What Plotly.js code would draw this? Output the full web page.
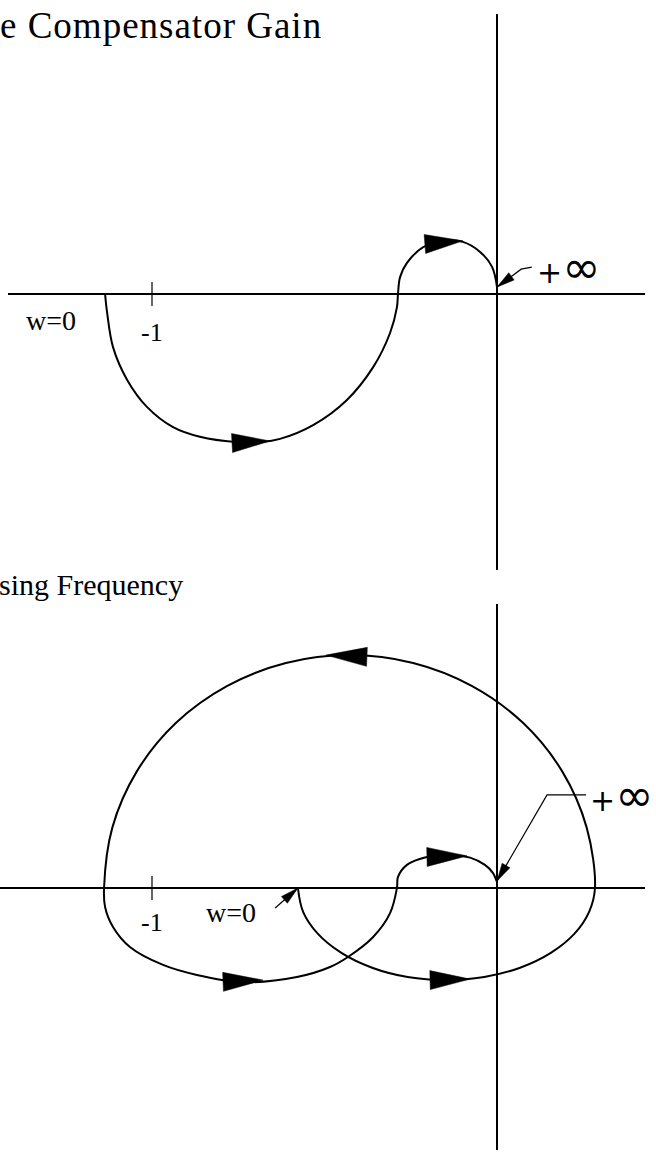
<!DOCTYPE html>
<html>
<head>
<meta charset="utf-8">
<script src="https://cdn.plot.ly/plotly-3.0.1.min.js"></script>
<style>
  html, body { margin: 0; padding: 0; background: #fff; }
  #plot { width: 656px; height: 1167px; }
</style>
</head>
<body>
<div id="plot"></div>
<script>
// ---- Nyquist locus, constant compensator gain (upper panel) ----
const upperRe = [-1.136, -1.130, -1.113, -1.072, -1.014, -0.939, -0.861, -0.759, -0.681, -0.629, -0.533, -0.435,
                 -0.359, -0.310, -0.290, -0.287, -0.281, -0.261, -0.214, -0.151, -0.099, -0.049, -0.014, 0];
const upperIm = [0, -0.055, -0.154, -0.249, -0.328, -0.386, -0.414, -0.429, -0.429, -0.420, -0.380, -0.307,
                 -0.212, -0.113, -0.038, 0, 0.049, 0.090, 0.136, 0.154, 0.151, 0.122, 0.078, 0.020];

// ---- Nyquist locus, gain varying with frequency (lower panel) ----
const lowerRe = [-0.577, -0.562, -0.519, -0.451, -0.362, -0.259, -0.148, -0.037, 0.067, 0.156, 0.224, 0.267,
                 0.284, 0.260, 0.189, 0.076, -0.072, -0.243, -0.428, -0.612, -0.783, -0.931, -1.044, -1.115,
                 -1.139, -1.136, -1.113, -1.064, -0.968, -0.870, -0.736, -0.580, -0.484, -0.432, -0.359,
                 -0.310, -0.290, -0.287, -0.261, -0.203, -0.136, -0.078, -0.035, -0.012, 0];
const lowerIm = [0, -0.069, -0.133, -0.188, -0.231, -0.258, -0.267, -0.258, -0.231, -0.188, -0.133, -0.069,
                 0, 0.175, 0.338, 0.478, 0.585, 0.652, 0.675, 0.652, 0.585, 0.478, 0.338, 0.175,
                 0, -0.055, -0.113, -0.171, -0.223, -0.252, -0.273, -0.258, -0.229, -0.200, -0.142,
                 -0.073, 0, 0.032, 0.067, 0.090, 0.096, 0.088, 0.067, 0.044, 0.017];

// direction-of-travel arrows: tail and tip points along each locus
const upperArrowTailRe = [-0.768, -0.209];
const upperArrowTailIm = [-0.432, 0.145];
const upperArrowTipRe  = [-0.658, -0.099];
const upperArrowTipIm  = [-0.426, 0.154];
const lowerArrowTailRe = [-0.377, -0.794, -0.203, -0.194];
const lowerArrowTailIm = [0.670, -0.272, 0.090, -0.267];
const lowerArrowTipRe  = [-0.496, -0.678, -0.087, -0.078];
const lowerArrowTipIm  = [0.675, -0.267, 0.093, -0.264];

// leader lines pointing at the w -> +inf end and the w = 0 start
const upperInfLeaderRe = [0.101, 0.070, 0];
const upperInfLeaderIm = [0.078, 0.072, 0.020];
const lowerInfLeaderRe = [0.258, 0.145, 0];
const lowerInfLeaderIm = [0.270, 0.270, 0.020];
const lowerZeroLeaderRe = [-0.643, -0.577];
const lowerZeroLeaderIm = [-0.058, 0];

// the -1 critical point tick
const tickVals = [-1];
const tickText = ['-1'];

// label anchors
const upperW0Re = -1.293, upperW0Im = -0.078;
const lowerW0Re = -0.770, lowerW0Im = -0.070;
const tickLabelIm = [-0.113, -0.099];
const upperInfLabelRe = 0.110, upperInfLabelIm = 0.077;   // left edge of "+inf"

// ---------------- layout geometry ----------------
const W = 656, H = 1167;
const PX = 345;                       // pixels per unit, both axes
const panels = [
  { left: 8, right: 645, top: 14,  bottom: 570,  ox: 497, oy: 294 },
  { left: 0, right: 645, top: 604, bottom: 1150, ox: 497, oy: 888 }
];

function axisPair(p) {
  const common = {
    showgrid: false, zeroline: true, zerolinecolor: '#000', zerolinewidth: 1.5,
    showticklabels: false, ticks: '', showline: false, fixedrange: true
  };
  return [
    Object.assign({}, common, { domain: [p.left / W, p.right / W], range: [(p.left - p.ox) / PX, (p.right - p.ox) / PX] }),
    Object.assign({}, common, { domain: [1 - p.bottom / H, 1 - p.top / H], range: [(p.oy - p.bottom) / PX, (p.oy - p.top) / PX] })
  ];
}

const [xa1, ya1] = axisPair(panels[0]);
const [xa2, ya2] = axisPair(panels[1]);
xa1.anchor = 'y'; ya1.anchor = 'x';
xa2.anchor = 'y2'; ya2.anchor = 'x2';

const ink = '#000';
const traces = [];

function curve(xs, ys, xref, yref, width) {
  traces.push({
    x: xs, y: ys, xaxis: xref, yaxis: yref, type: 'scatter', mode: 'lines',
    line: { color: ink, width: width, shape: 'spline', smoothing: 1 },
    hoverinfo: 'skip'
  });
}

function straight(xs, ys, xref, yref, width) {
  traces.push({
    x: xs, y: ys, xaxis: xref, yaxis: yref, type: 'scatter', mode: 'lines',
    line: { color: ink, width: width }, hoverinfo: 'skip'
  });
}

// filled triangular arrowhead from a tail point toward a tip point
function head(tx, ty, hx, hy, halfWidthPx, lengthPx, xref, yref) {
  let dx = hx - tx, dy = hy - ty;
  const len = Math.hypot(dx, dy);
  dx /= len; dy /= len;
  const L = (lengthPx == null ? len : lengthPx / PX);
  const bx = hx - dx * L, by = hy - dy * L;
  const hw = halfWidthPx / PX;
  const nx = -dy * hw, ny = dx * hw;
  traces.push({
    x: [bx + nx, hx, bx - nx, bx + nx], y: [by + ny, hy, by - ny, by + ny],
    xaxis: xref, yaxis: yref, type: 'scatter', mode: 'lines', fill: 'toself',
    fillcolor: ink, line: { color: ink, width: 0.5 }, hoverinfo: 'skip'
  });
}

// loci
curve(upperRe, upperIm, 'x', 'y', 2);
curve(lowerRe, lowerIm, 'x2', 'y2', 2);

// travel arrows
upperArrowTipRe.forEach((_, i) =>
  head(upperArrowTailRe[i], upperArrowTailIm[i], upperArrowTipRe[i], upperArrowTipIm[i], 9.5, null, 'x', 'y'));
lowerArrowTipRe.forEach((_, i) =>
  head(lowerArrowTailRe[i], lowerArrowTailIm[i], lowerArrowTipRe[i], lowerArrowTipIm[i], 9.5, null, 'x2', 'y2'));

// leaders with small arrowheads
function leader(xs, ys, xref, yref) {
  straight(xs, ys, xref, yref, 1.2);
  const n = xs.length;
  head(xs[n - 2], ys[n - 2], xs[n - 1], ys[n - 1], 4.5, 18, xref, yref);
}
leader(upperInfLeaderRe, upperInfLeaderIm, 'x', 'y');
leader(lowerInfLeaderRe, lowerInfLeaderIm, 'x2', 'y2');
leader(lowerZeroLeaderRe, lowerZeroLeaderIm, 'x2', 'y2');

// tick marks at -1
const tickHalf = 12 / PX;
tickVals.forEach(v => {
  straight([v, v], [-tickHalf, tickHalf], 'x', 'y', 1.2);
  straight([v, v], [-tickHalf, tickHalf], 'x2', 'y2', 1.2);
});

// ---------------- text ----------------
const serif = '"Liberation Serif", "Times New Roman", serif';
const sans = '"DejaVu Sans", sans-serif';
const annotations = [];

function label(text, x, y, xref, yref, size, family, xanchor, yanchor) {
  annotations.push({
    text: text, x: x, y: y, xref: xref, yref: yref, showarrow: false,
    xanchor: xanchor || 'center', yanchor: yanchor || 'middle',
    font: { family: family || serif, size: size, color: ink }
  });
}

// panel headings
label('<span style="letter-spacing:1px">e Compensator Gain</span>', 324 / W, 1 - 25 / H,
      'paper', 'paper', 37, serif, 'right', 'middle');
label('sing Frequency', 185 / W, 1 - 584 / H, 'paper', 'paper', 30, serif, 'right', 'middle');

label('w=0', upperW0Re, upperW0Im, 'x', 'y', 28);
label('w=0', lowerW0Re, lowerW0Im, 'x2', 'y2', 28);
tickVals.forEach((v, i) => {
  label(tickText[i], v, tickLabelIm[0], 'x', 'y', 26);
  label(tickText[i], v, tickLabelIm[1], 'x2', 'y2', 26);
});

// +inf labels beside the leaders (the infinity sign set larger and raised)
const infText = '+<span style="font-size:46px">\u221E</span>';
label(infText, upperInfLabelRe, upperInfLabelIm, 'x', 'y', 30, sans, 'left', 'middle');
// the lower one sits past the plotting frame, so it is placed on the page
label(infText, 655 / W, 1 - 795 / H, 'paper', 'paper', 30, sans, 'right', 'middle');

const layout = {
  width: W, height: H,
  margin: { l: 0, r: 0, t: 0, b: 0, pad: 0 },
  paper_bgcolor: '#fff', plot_bgcolor: '#fff',
  showlegend: false,
  xaxis: xa1, yaxis: ya1, xaxis2: xa2, yaxis2: ya2,
  annotations: annotations
};

Plotly.newPlot('plot', traces, layout, { staticPlot: true, displayModeBar: false });
</script>
</body>
</html>
